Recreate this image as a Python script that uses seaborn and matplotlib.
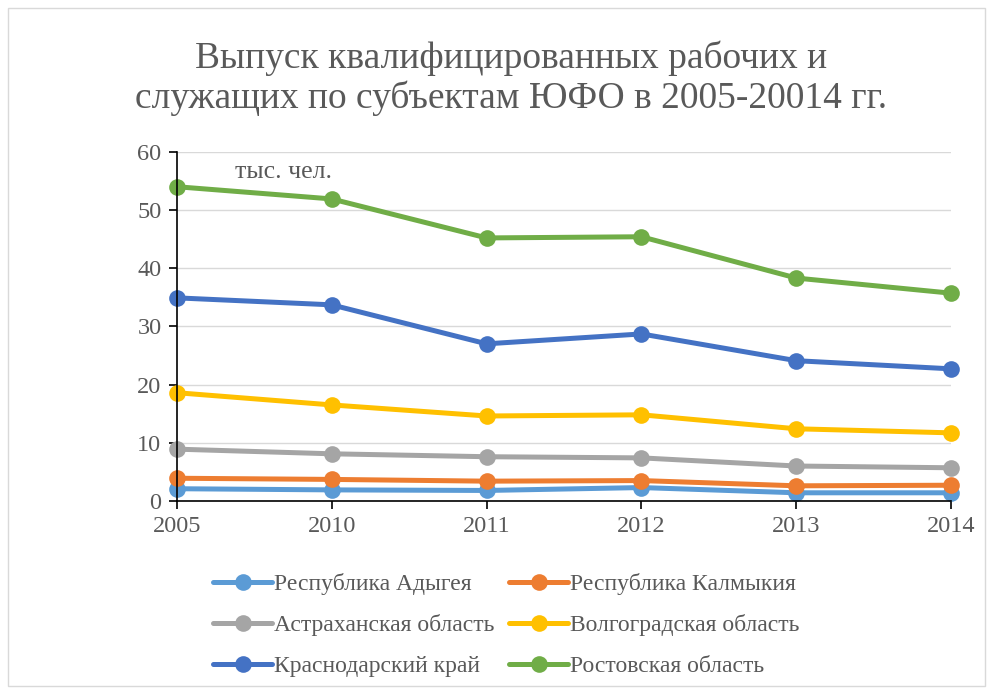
import matplotlib
matplotlib.use("Agg")
import matplotlib.pyplot as plt
import seaborn as sns
import pandas as pd
from matplotlib.patches import Rectangle

years = ["2005", "2010", "2011", "2012", "2013", "2014"]
regions = ["Республика Адыгея", "Республика Калмыкия", "Астраханская область",
           "Волгоградская область", "Краснодарский край", "Ростовская область"]
adygea = [2.1, 1.9, 1.8, 2.3, 1.4, 1.4]
kalmykia = [3.9, 3.7, 3.4, 3.5, 2.6, 2.7]
astrakhan = [8.9, 8.1, 7.6, 7.4, 6.0, 5.7]
volgograd = [18.6, 16.5, 14.6, 14.8, 12.4, 11.7]
krasnodar = [34.9, 33.7, 27.0, 28.7, 24.1, 22.7]
rostov = [54.0, 51.9, 45.2, 45.4, 38.3, 35.7]
series = [adygea, kalmykia, astrakhan, volgograd, krasnodar, rostov]
colors = ["#5B9BD5", "#ED7D31", "#A5A5A5", "#FFC000", "#4472C4", "#70AD47"]

rows = []
for name, vals in zip(regions, series):
    for i, (y, v) in enumerate(zip(years, vals)):
        rows.append({"pos": i, "year": y, "region": name, "value": v})
df = pd.DataFrame(rows)

sns.set_style("white")
plt.rcParams["font.family"] = ["Liberation Serif", "DejaVu Serif"]
txt = "#595959"

fig = plt.figure(figsize=(9.93, 6.9), dpi=100)
fig.patches.append(Rectangle((0.008, 0.006), 0.984, 0.982, transform=fig.transFigure,
                             fill=False, edgecolor="#D9D9D9", linewidth=1))
ax = fig.add_axes([0.178, 0.274, 0.780, 0.506])

sns.lineplot(data=df, x="pos", y="value", hue="region", hue_order=regions,
             palette=colors, marker="o", markersize=12, markeredgewidth=0,
             linewidth=3.6, ax=ax, legend=True)
for ln in ax.lines:
    ln.set_clip_on(False)

ax.set_xlim(0, 5)
ax.set_ylim(0, 60)
ax.set_yticks(range(0, 61, 10))
ax.set_xticks(range(len(years)))
ax.set_xticklabels(years)
ax.set_xlabel("")
ax.set_ylabel("")
ax.grid(axis="y", color="#D9D9D9", linewidth=1)
ax.set_axisbelow(True)
for s in ["top", "right"]:
    ax.spines[s].set_visible(False)
for s in ["left", "bottom"]:
    ax.spines[s].set_color("black")
    ax.spines[s].set_linewidth(1.2)
ax.tick_params(axis="both", which="major", direction="out", length=6, width=1.2,
               color="black", labelsize=17.5, labelcolor=txt, pad=5)
ax.tick_params(axis="y", left=True)
ax.tick_params(axis="x", bottom=True)

handles, labels = ax.get_legend_handles_labels()
ax.get_legend().remove()
order = [0, 2, 4, 1, 3, 5]
leg = fig.legend([handles[i] for i in order], [labels[i] for i in order],
                 loc="center", bbox_to_anchor=(0.51, 0.094), ncol=2, frameon=False,
                 fontsize=17, handlelength=2.5, handletextpad=0.1, columnspacing=0.6,
                 labelspacing=0.8)
for t in leg.get_texts():
    t.set_color(txt)

fig.text(0.515, 0.887, "Выпуск квалифицированных рабочих и\nслужащих по субъектам ЮФО в 2005-20014 гг.",
         ha="center", va="center", fontsize=27, color=txt, linespacing=1.15)
fig.text(0.285, 0.75, "тыс. чел.", ha="center", va="center", fontsize=18.5, color=txt)

fig.savefig("out.png", dpi=100)
